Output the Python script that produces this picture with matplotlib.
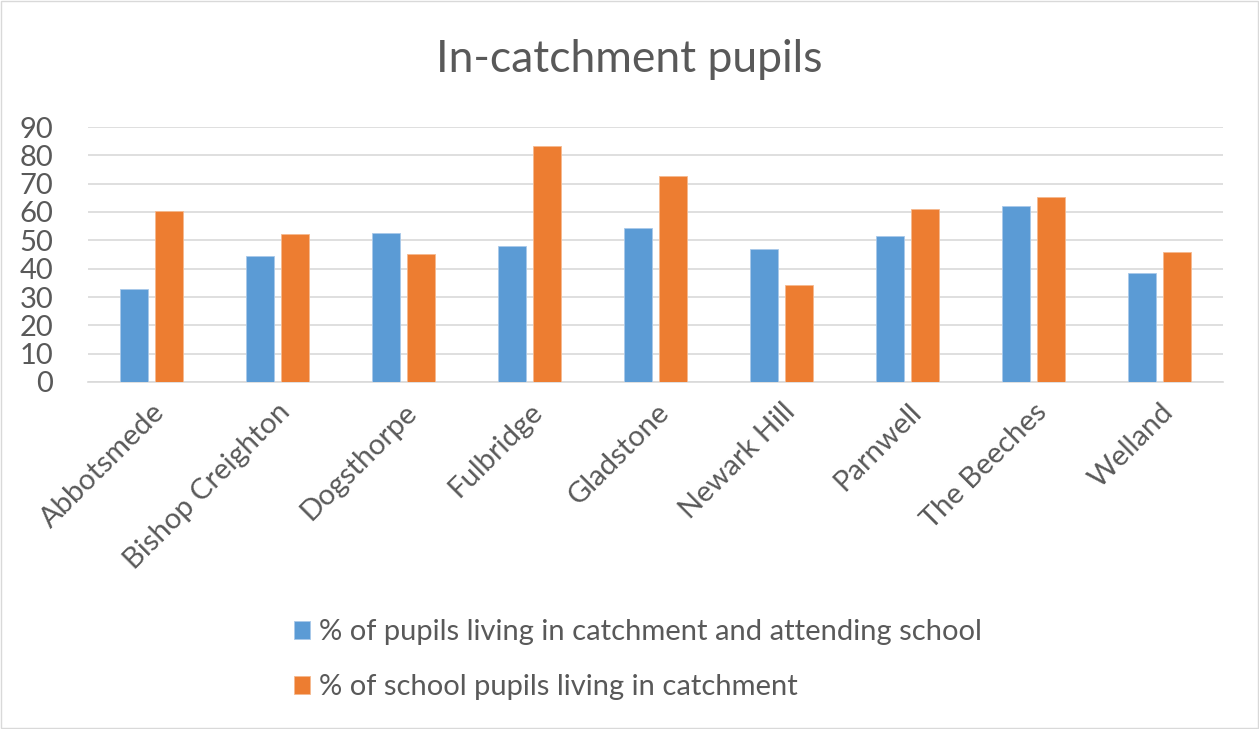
import matplotlib.pyplot as plt
import numpy as np

schools = ['Abbotsmede', 'Bishop Creighton', 'Dogsthorpe', 'Fulbridge', 'Gladstone',
           'Newark Hill', 'Parnwell', 'The Beeches', 'Welland']
living_attending = [33.0, 44.6, 52.6, 48.1, 54.4, 46.9, 51.5, 62.0, 38.3]
school_living = [60.2, 52.2, 45.1, 83.2, 72.8, 34.2, 61.2, 65.4, 45.8]
series_names = ['% of pupils living in catchment and attending school',
                '% of school pupils living in catchment']

grey = '#595959'
plt.rcParams['font.family'] = ['Lato', 'DejaVu Sans']

fig = plt.figure(figsize=(12.59, 7.29), dpi=100)
ax = fig.add_axes([88 / 1259, 1 - 382 / 729, (1223 - 88) / 1259, (382 - 127) / 729])

x = np.arange(len(schools))
w = 0.222
ax.bar(x - 0.139, living_attending, w, color='#5b9bd5', edgecolor='#a9c9ea', linewidth=0.6,
       label=series_names[0], zorder=3)
ax.bar(x + 0.139, school_living, w, color='#ed7d31', edgecolor='#f5b98f', linewidth=0.6,
       label=series_names[1], zorder=3)

ax.set_xlim(-0.5, len(schools) - 0.5)
ax.set_ylim(0, 90)
ax.set_yticks(range(0, 91, 10))
ax.yaxis.grid(True, color='#d9d9d9', linewidth=1.2, zorder=0)
for s in ['top', 'right', 'left']:
    ax.spines[s].set_visible(False)
ax.spines['bottom'].set_color('#d9d9d9')
ax.spines['bottom'].set_linewidth(1.2)
ax.tick_params(axis='both', length=0, colors=grey, labelsize=21)
ax.tick_params(axis='y', pad=25)
ax.set_xticks(x)
ax.set_xticklabels(schools, rotation=45, ha='right', rotation_mode='anchor')
ax.tick_params(axis='x', pad=12)

fig.text(0.5, 1 - 60 / 729, 'In-catchment pupils', ha='center', va='center',
         fontsize=32, color=grey)

handles, labels = ax.get_legend_handles_labels()
leg = fig.legend(handles, labels, loc='upper left', bbox_to_anchor=(268 / 1259, 1 - 593 / 729),
                 ncol=1, frameon=False, fontsize=21, handlelength=0.55, handleheight=0.55,
                 handletextpad=0.3, labelspacing=1.0, labelcolor=grey)

fig.patches.append(plt.Rectangle((0.001, 0.001), 0.998, 0.997, transform=fig.transFigure,
                                 fill=False, edgecolor='#d9d9d9', linewidth=1))

plt.savefig('out.png', dpi=100)
